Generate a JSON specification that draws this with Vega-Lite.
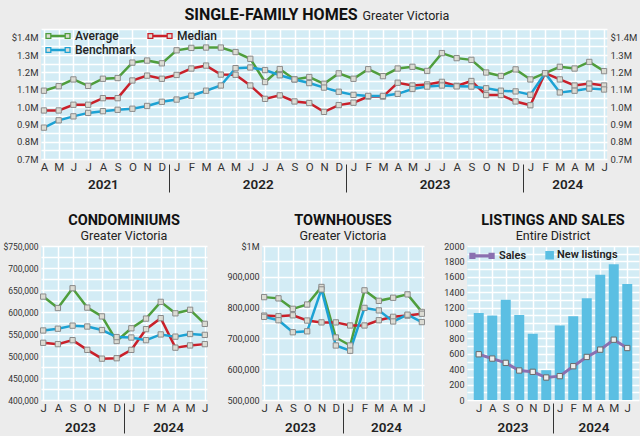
{
  "$schema": "https://vega.github.io/schema/vega-lite/v6.json",
  "background": "#ececec",
  "padding": {"left": 2, "right": 2, "top": 6, "bottom": 2},
  "config": {
    "font": "Roboto",
    "view": {"fill": "#d3ecf5", "stroke": null},
    "axis": {"labelColor": "#333333", "labelFontSize": 9.5, "domain": false, "ticks": false, "gridColor": "#ffffff", "gridWidth": 1.5, "gridOpacity": 1, "labelPadding": 3},
    "title": {"color": "#111111", "fontWeight": "bold", "fontSize": 14.5, "subtitleColor": "#222222", "subtitleFontSize": 12.5, "subtitlePadding": 1, "anchor": "middle", "offset": -1}
  },
  "datasets": {
    "sfh": [
      {"i":0,"Average":1094000,"Median":980000,"Benchmark":881000},
      {"i":1,"Average":1120000,"Median":980000,"Benchmark":923000},
      {"i":2,"Average":1159000,"Median":1013000,"Benchmark":946000},
      {"i":3,"Average":1122000,"Median":1013000,"Benchmark":966000},
      {"i":4,"Average":1163000,"Median":1051000,"Benchmark":976000},
      {"i":5,"Average":1167000,"Median":1051000,"Benchmark":984000},
      {"i":6,"Average":1256000,"Median":1153000,"Benchmark":990000},
      {"i":7,"Average":1268000,"Median":1181000,"Benchmark":1006000},
      {"i":8,"Average":1252000,"Median":1163000,"Benchmark":1030000},
      {"i":9,"Average":1327000,"Median":1185000,"Benchmark":1043000},
      {"i":10,"Average":1341000,"Median":1222000,"Benchmark":1065000},
      {"i":11,"Average":1343000,"Median":1239000,"Benchmark":1094000},
      {"i":12,"Average":1343000,"Median":1187000,"Benchmark":1124000},
      {"i":13,"Average":1317000,"Median":1186000,"Benchmark":1224000},
      {"i":14,"Average":1278000,"Median":1124000,"Benchmark":1228000},
      {"i":15,"Average":1144000,"Median":1047000,"Benchmark":1213000},
      {"i":16,"Average":1219000,"Median":1067000,"Benchmark":1183000},
      {"i":17,"Average":1159000,"Median":1032000,"Benchmark":1159000},
      {"i":18,"Average":1173000,"Median":1023000,"Benchmark":1138000},
      {"i":19,"Average":1134000,"Median":972000,"Benchmark":1112000},
      {"i":20,"Average":1194000,"Median":1011000,"Benchmark":1088000},
      {"i":21,"Average":1163000,"Median":1025000,"Benchmark":1070000},
      {"i":22,"Average":1218000,"Median":1060000,"Benchmark":1064000},
      {"i":23,"Average":1178000,"Median":1060000,"Benchmark":1064000},
      {"i":24,"Average":1222000,"Median":1140000,"Benchmark":1076000},
      {"i":25,"Average":1232000,"Median":1124000,"Benchmark":1104000},
      {"i":26,"Average":1208000,"Median":1130000,"Benchmark":1118000},
      {"i":27,"Average":1311000,"Median":1145000,"Benchmark":1124000},
      {"i":28,"Average":1282000,"Median":1122000,"Benchmark":1119000},
      {"i":29,"Average":1272000,"Median":1150000,"Benchmark":1118000},
      {"i":30,"Average":1199000,"Median":1069000,"Benchmark":1108000},
      {"i":31,"Average":1179000,"Median":1069000,"Benchmark":1094000},
      {"i":32,"Average":1217000,"Median":1032000,"Benchmark":1090000},
      {"i":33,"Average":1159000,"Median":1010000,"Benchmark":1071000},
      {"i":34,"Average":1195000,"Median":1195000,"Benchmark":1195000},
      {"i":35,"Average":1232000,"Median":1159000,"Benchmark":1084000},
      {"i":36,"Average":1222000,"Median":1124000,"Benchmark":1094000},
      {"i":37,"Average":1260000,"Median":1135000,"Benchmark":1106000},
      {"i":38,"Average":1207000,"Median":1124000,"Benchmark":1101000}
    ],
    "condo": [
      {"i":0,"Average":635000,"Median":530000,"Benchmark":558000},
      {"i":1,"Average":609000,"Median":527000,"Benchmark":562000},
      {"i":2,"Average":654000,"Median":536000,"Benchmark":569000},
      {"i":3,"Average":610000,"Median":514000,"Benchmark":567000},
      {"i":4,"Average":590000,"Median":494000,"Benchmark":559000},
      {"i":5,"Average":534000,"Median":495000,"Benchmark":543000},
      {"i":6,"Average":563000,"Median":514000,"Benchmark":542000},
      {"i":7,"Average":585000,"Median":561000,"Benchmark":536000},
      {"i":8,"Average":623000,"Median":586000,"Benchmark":549000},
      {"i":9,"Average":597000,"Median":519000,"Benchmark":544000},
      {"i":10,"Average":605000,"Median":524000,"Benchmark":550000},
      {"i":11,"Average":573000,"Median":527000,"Benchmark":548000}
    ],
    "town": [
      {"i":0,"Average":834000,"Median":774000,"Benchmark":770000},
      {"i":1,"Average":830000,"Median":772000,"Benchmark":759000},
      {"i":2,"Average":796000,"Median":775000,"Benchmark":720000},
      {"i":3,"Average":810000,"Median":758000,"Benchmark":723000},
      {"i":4,"Average":867000,"Median":752000,"Benchmark":859000},
      {"i":5,"Average":703000,"Median":752000,"Benchmark":677000},
      {"i":6,"Average":677000,"Median":742000,"Benchmark":660000},
      {"i":7,"Average":856000,"Median":742000,"Benchmark":799000},
      {"i":8,"Average":822000,"Median":759000,"Benchmark":791000},
      {"i":9,"Average":832000,"Median":770000,"Benchmark":755000},
      {"i":10,"Average":843000,"Median":774000,"Benchmark":777000},
      {"i":11,"Average":786000,"Median":780000,"Benchmark":753000}
    ],
    "list": [
      {"i":0,"listings":1131,"sales":594},
      {"i":1,"listings":1097,"sales":538},
      {"i":2,"listings":1303,"sales":482},
      {"i":3,"listings":1105,"sales":383},
      {"i":4,"listings":860,"sales":366},
      {"i":5,"listings":387,"sales":292},
      {"i":6,"listings":968,"sales":310},
      {"i":7,"listings":1088,"sales":439},
      {"i":8,"listings":1320,"sales":559},
      {"i":9,"listings":1626,"sales":654},
      {"i":10,"listings":1763,"sales":783},
      {"i":11,"listings":1505,"sales":675}
    ]
  },
  "title": {"text": "SINGLE-FAMILY HOMES", "fontSize": 16, "dx": -50, "offset": -13},
  "columns": 1,
  "align": "none",
  "spacing": 20,
  "resolve": {"scale": {"color": "independent"}, "legend": {"color": "independent"}},
  "concat": [
    {
      "width": 566,
      "height": 130,
      "title": {"text": "Greater Victoria", "fontSize": 12.5, "fontWeight": "normal", "color": "#222222", "dx": 82, "offset": 2},
      "data": {"name": "sfh"},
      "transform": [{"fold": ["Average", "Median", "Benchmark"], "as": ["s", "v"]}],
      "layer": [
        {
          "mark": {"type": "line", "strokeWidth": 2.5},
          "encoding": {
            "x": {"field": "i", "type": "quantitative", "scale": {"domain": [-0.2, 38.2], "nice": false, "zero": false},
              "axis": {"title": null, "orient": "bottom", "values": [0,1,2,3,4,5,6,7,8,9,10,11,12,13,14,15,16,17,18,19,20,21,22,23,24,25,26,27,28,29,30,31,32,33,34,35,36,37,38],
                "labelExpr": "['A','M','J','J','A','S','O','N','D','J','F','M','A','M','J','J','A','S','O','N','D','J','F','M','A','M','J','J','A','S','O','N','D','J','F','M','A','M','J'][datum.value]",
                "grid": true, "labelFontSize": 11.5, "labelPadding": 2, "labelFlush": false, "labelOverlap": false}},
            "y": {"field": "v", "type": "quantitative", "scale": {"domain": [700000, 1450000], "nice": false, "zero": false},
              "axis": {"title": null, "orient": "left", "values": [700000,750000,800000,850000,900000,950000,1000000,1050000,1100000,1150000,1200000,1250000,1300000,1350000,1400000,1450000],
                "labelExpr": "datum.value % 100000 != 0 ? '' : (datum.value == 1400000 ? '$' : '') + format(datum.value / 1000000, '.1f') + 'M'",
                "grid": true, "labelOverlap": false, "labelFlush": false}},
            "color": {"field": "s", "type": "nominal",
              "scale": {"domain": ["Average", "Median", "Benchmark"], "range": ["#4f9e3c", "#c9202a", "#1ca2d4"]},
              "legend": {"title": null, "orient": "none", "legendX": 4, "legendY": 0, "direction": "horizontal", "columns": 2, "gridAlign": "none", "padding": 0, "columnPadding": 8, "rowPadding": 1,
                "labelFontSize": 12, "labelFontWeight": 500, "labelColor": "#222222", "labelOffset": 16,
                "symbolType": "M-1,-0.4H-0.2V0.4H-1Z M2.2,-0.4H3V0.4H2.2Z M-0.2,-0.12H2.2V0.12H-0.2Z",
                "symbolSize": 144,
                "encode": {"symbols": {"update": {"fill": {"value": "#dcdcd4"}, "strokeWidth": {"value": 1.3}, "opacity": {"value": 1}}}}}}
          }
        },
        {
          "mark": {"type": "point", "shape": "square", "filled": true, "fill": "#dcdcd4", "stroke": "#8a8a8a", "strokeWidth": 1, "size": 28, "opacity": 1},
          "encoding": {
            "x": {"field": "i", "type": "quantitative",
              "axis": {"title": null, "orient": "bottom", "values": [4, 8.5, 14.5, 20.5, 26.5, 32.5, 35.5], "grid": false, "ticks": true, "tickSize": 28, "tickColor": "#333333", "tickWidth": 1,
                "tickOpacity": {"condition": {"test": "datum.value == 8.5 || datum.value == 20.5 || datum.value == 32.5", "value": 1}, "value": 0},
                "offset": 5, "labelPadding": -15,
                "labelExpr": "datum.value == 4 ? '2021' : datum.value == 14.5 ? '2022' : datum.value == 26.5 ? '2023' : datum.value == 35.5 ? '2024' : ''",
                "labelFontSize": 13.5, "labelFontWeight": 600, "labelColor": "#222222", "labelFlush": false, "labelOverlap": false, "labelBound": false}},
            "y": {"field": "v", "type": "quantitative",
              "axis": {"title": null, "orient": "right", "values": [700000,800000,900000,1000000,1100000,1200000,1300000,1400000],
                "labelExpr": "(datum.value == 1400000 ? '$' : '') + format(datum.value / 1000000, '.1f') + 'M'",
                "grid": false, "labelOverlap": false, "labelFlush": false}}
          }
        }
      ],
      "resolve": {"axis": {"x": "independent", "y": "independent"}}
    },
    {
      "columns": 3,
      "align": "none",
      "spacing": 16,
      "resolve": {"scale": {"color": "independent"}, "legend": {"color": "independent"}},
      "concat": [
        {
          "width": 166,
          "height": 154,
          "title": {"text": "CONDOMINIUMS", "subtitle": "Greater Victoria"},
          "data": {"name": "condo"},
          "transform": [{"fold": ["Average", "Median", "Benchmark"], "as": ["s", "v"]}],
          "layer": [
            {
              "mark": {"type": "line", "strokeWidth": 2.5},
              "encoding": {
                "x": {"field": "i", "type": "quantitative", "scale": {"domain": [-0.15, 11.15], "nice": false, "zero": false},
                  "axis": {"title": null, "values": [0,1,2,3,4,5,6,7,8,9,10,11],
                    "labelExpr": "['J','A','S','O','N','D','J','F','M','A','M','J'][datum.value]",
                    "grid": true, "labelFontSize": 11.5, "labelPadding": 2, "labelFlush": false, "labelOverlap": false}},
                "y": {"field": "v", "type": "quantitative", "scale": {"domain": [400000, 750000], "nice": false, "zero": false},
                  "axis": {"title": null, "labelFontSize": 8.5, "values": [400000,425000,450000,475000,500000,525000,550000,575000,600000,625000,650000,675000,700000,725000,750000],
                    "labelExpr": "datum.value % 50000 != 0 ? '' : datum.value == 750000 ? '$750,000' : format(datum.value, ',')",
                    "grid": true, "labelOverlap": false, "labelFlush": false}},
                "color": {"field": "s", "type": "nominal",
                  "scale": {"domain": ["Average", "Median", "Benchmark"], "range": ["#4f9e3c", "#c9202a", "#1ca2d4"]}, "legend": null}
              }
            },
            {
              "mark": {"type": "point", "shape": "square", "filled": true, "fill": "#dcdcd4", "stroke": "#8a8a8a", "strokeWidth": 1, "size": 28, "opacity": 1},
              "encoding": {
                "x": {"field": "i", "type": "quantitative",
                  "axis": {"title": null, "orient": "bottom", "values": [2.5, 5.5, 8.5], "grid": false, "ticks": true, "tickSize": 30, "tickColor": "#333333", "tickWidth": 1,
                    "tickOpacity": {"condition": {"test": "datum.value == 5.5", "value": 1}, "value": 0},
                    "offset": 3, "labelPadding": -13,
                    "labelExpr": "datum.value == 2.5 ? '2023' : datum.value == 8.5 ? '2024' : ''",
                    "labelFontSize": 13.5, "labelFontWeight": 600, "labelColor": "#222222", "labelFlush": false, "labelOverlap": false, "labelBound": false}},
                "y": {"field": "v", "type": "quantitative", "axis": null}
              }
            }
          ],
          "resolve": {"axis": {"x": "independent", "y": "independent"}}
        },
        {
          "width": 162,
          "height": 154,
          "title": {"text": "TOWNHOUSES", "subtitle": "Greater Victoria"},
          "data": {"name": "town"},
          "transform": [{"fold": ["Average", "Median", "Benchmark"], "as": ["s", "v"]}],
          "layer": [
            {
              "mark": {"type": "line", "strokeWidth": 2.5},
              "encoding": {
                "x": {"field": "i", "type": "quantitative", "scale": {"domain": [-0.15, 11.15], "nice": false, "zero": false},
                  "axis": {"title": null, "values": [0,1,2,3,4,5,6,7,8,9,10,11],
                    "labelExpr": "['J','A','S','O','N','D','J','F','M','A','M','J'][datum.value]",
                    "grid": true, "labelFontSize": 11.5, "labelPadding": 2, "labelFlush": false, "labelOverlap": false}},
                "y": {"field": "v", "type": "quantitative", "scale": {"domain": [500000, 1000000], "nice": false, "zero": false},
                  "axis": {"title": null, "labelFontSize": 9, "values": [500000,550000,600000,650000,700000,750000,800000,850000,900000,950000,1000000],
                    "labelExpr": "datum.value % 100000 != 0 ? '' : datum.value == 1000000 ? '$1M' : format(datum.value, ',')",
                    "grid": true, "labelOverlap": false, "labelFlush": false}},
                "color": {"field": "s", "type": "nominal",
                  "scale": {"domain": ["Average", "Median", "Benchmark"], "range": ["#4f9e3c", "#c9202a", "#1ca2d4"]}, "legend": null}
              }
            },
            {
              "mark": {"type": "point", "shape": "square", "filled": true, "fill": "#dcdcd4", "stroke": "#8a8a8a", "strokeWidth": 1, "size": 28, "opacity": 1},
              "encoding": {
                "x": {"field": "i", "type": "quantitative",
                  "axis": {"title": null, "orient": "bottom", "values": [2.5, 5.5, 8.5], "grid": false, "ticks": true, "tickSize": 30, "tickColor": "#333333", "tickWidth": 1,
                    "tickOpacity": {"condition": {"test": "datum.value == 5.5", "value": 1}, "value": 0},
                    "offset": 3, "labelPadding": -13,
                    "labelExpr": "datum.value == 2.5 ? '2023' : datum.value == 8.5 ? '2024' : ''",
                    "labelFontSize": 13.5, "labelFontWeight": 600, "labelColor": "#222222", "labelFlush": false, "labelOverlap": false, "labelBound": false}},
                "y": {"field": "v", "type": "quantitative", "axis": null}
              }
            }
          ],
          "resolve": {"axis": {"x": "independent", "y": "independent"}}
        },
        {
          "width": 172,
          "height": 154,
          "title": {"text": "LISTINGS AND SALES", "subtitle": "Entire District"},
          "data": {"name": "list"},
          "layer": [
            {
              "mark": {"type": "bar", "width": 10},
              "encoding": {
                "x": {"field": "i", "type": "quantitative", "scale": {"domain": [-0.5, 11.5], "nice": false, "zero": false},
                  "axis": {"title": null, "values": [0,1,2,3,4,5,6,7,8,9,10,11],
                    "labelExpr": "['J','A','S','O','N','D','J','F','M','A','M','J'][datum.value]",
                    "grid": true, "labelFontSize": 11.5, "labelPadding": 2, "labelFlush": false, "labelOverlap": false}},
                "y": {"field": "listings", "type": "quantitative", "scale": {"domain": [0, 2000], "nice": false},
                  "axis": {"title": null, "labelFontSize": 9, "values": [0,100,200,300,400,500,600,700,800,900,1000,1100,1200,1300,1400,1500,1600,1700,1800,1900,2000],
                    "format": "d", "labelExpr": "datum.value % 200 == 0 ? datum.label : ''",
                    "grid": true, "labelOverlap": false, "labelFlush": false}},
                "color": {"datum": "New listings", "type": "nominal",
                  "scale": {"domain": ["Sales", "New listings"], "range": ["#8a70b0", "#5bbfe3"]},
                  "legend": {"title": null, "orient": "none", "legendX": 2, "legendY": 2, "direction": "horizontal", "padding": 0, "columnPadding": 0,
                    "labelFontSize": 11, "labelFontWeight": 600, "labelColor": "#222222", "labelOffset": 16, "symbolSize": 144,
                    "encode": {"symbols": {"update": {
                      "shape": {"signal": "datum.value === 'Sales' ? 'M-1,-0.4H-0.2V0.4H-1Z M2.2,-0.4H3V0.4H2.2Z M-0.2,-0.14H2.2V0.14H-0.2Z' : 'M2,-0.6H3.2V0.6H2Z'"},
                      "fill": {"signal": "datum.value === 'Sales' ? '#eeeeee' : '#5bbfe3'"},
                      "stroke": {"signal": "datum.value === 'Sales' ? '#8a70b0' : '#5bbfe3'"},
                      "strokeWidth": {"value": 1.4},
                      "opacity": {"value": 1}}}}}}
              }
            },
            {
              "mark": {"type": "line", "strokeWidth": 3},
              "encoding": {
                "x": {"field": "i", "type": "quantitative", "scale": {"domain": [-0.5, 11.5], "nice": false, "zero": false}, "axis": null},
                "y": {"field": "sales", "type": "quantitative", "scale": {"domain": [0, 2000], "nice": false}, "axis": null},
                "color": {"datum": "Sales", "type": "nominal"}
              }
            },
            {
              "mark": {"type": "point", "shape": "square", "filled": true, "fill": "#eeeeee", "stroke": "#6a6a6a", "strokeWidth": 1, "size": 28, "opacity": 1},
              "encoding": {
                "x": {"field": "i", "type": "quantitative",
                  "axis": {"title": null, "orient": "bottom", "values": [2.5, 5.5, 8.5], "grid": false, "ticks": true, "tickSize": 30, "tickColor": "#333333", "tickWidth": 1,
                    "tickOpacity": {"condition": {"test": "datum.value == 5.5", "value": 1}, "value": 0},
                    "offset": 3, "labelPadding": -13,
                    "labelExpr": "datum.value == 2.5 ? '2023' : datum.value == 8.5 ? '2024' : ''",
                    "labelFontSize": 13.5, "labelFontWeight": 600, "labelColor": "#222222", "labelFlush": false, "labelOverlap": false, "labelBound": false}},
                "y": {"field": "sales", "type": "quantitative", "axis": null}
              }
            }
          ],
          "resolve": {"axis": {"x": "independent", "y": "independent"}}
        }
      ]
    }
  ]
}
